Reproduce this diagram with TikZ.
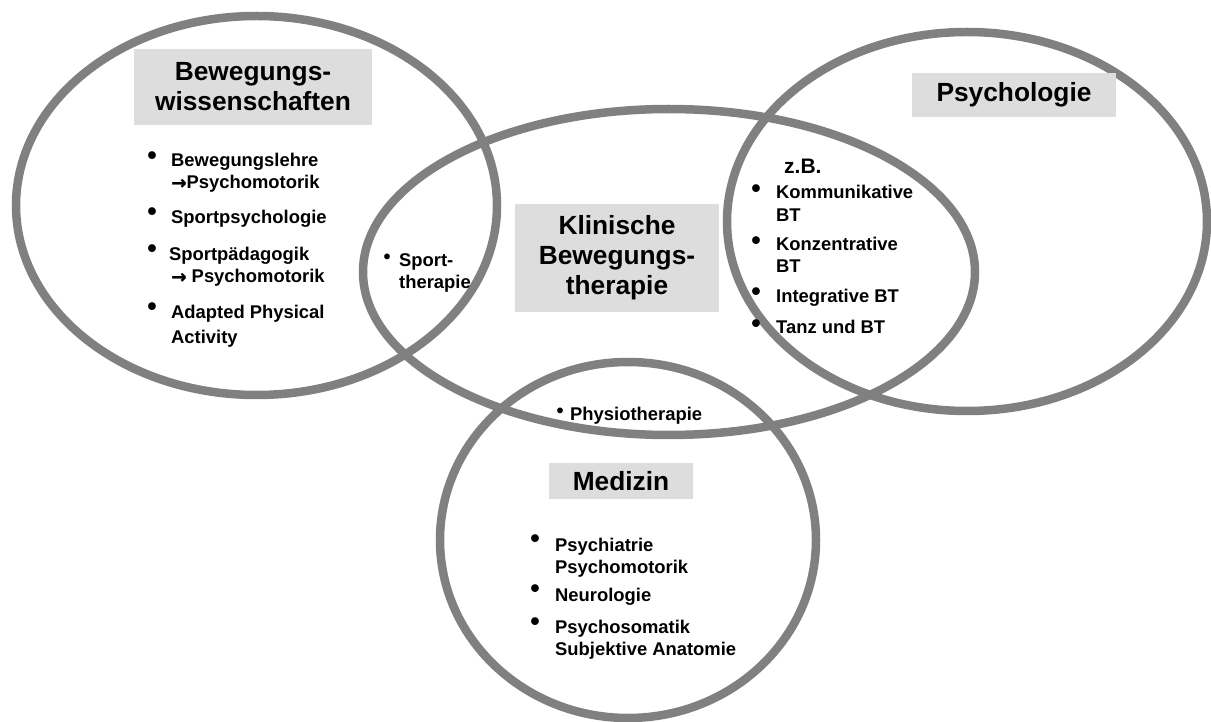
\documentclass[tikz,border=0pt]{standalone}
\usepackage{fontspec}
\setmainfont{Liberation Sans}
\newfontfamily\arrowfont{DejaVu Sans}[FakeBold=1.5]
\definecolor{ringgray}{HTML}{808080}
\definecolor{boxgray}{HTML}{DDDDDD}
\newcommand\ttlfont{\fontsize{26.3}{30}\selectfont\bfseries}
\newcommand\itmfont{\fontsize{18.4}{22}\selectfont\bfseries}
\newcommand\zbfont{\fontsize{21}{24}\selectfont\bfseries}
\newcommand\bltfont{\fontsize{27}{28}\selectfont\bfseries}
\newcommand\sbltfont{\fontsize{20}{22}\selectfont\bfseries}
\newcommand\arr{{\arrowfont\bfseries →}}
\begin{document}
\begin{tikzpicture}[x=1pt,y=-1pt,
  ring/.style={draw=ringgray, line width=8.5pt},
  titlebox/.style={fill=boxgray, inner sep=0pt, align=center, font=\ttlfont},
  itemtext/.style={anchor=base west, inner sep=0pt, font=\itmfont},
  bulletmark/.style={inner sep=0pt, font=\bltfont},
  smallbullet/.style={inner sep=0pt, font=\sbltfont}]
\useasboundingbox (0,0) rectangle (1211,722);
\begin{scope}
\clip (0,0) rectangle (1211,722);
% rings
\draw[ring] (256.5,205.5) ellipse [x radius=240.5pt, y radius=189.5pt];
\draw[ring] (669,272) ellipse [x radius=306pt, y radius=163pt];
\draw[ring] (967,221.5) ellipse [x radius=240pt, y radius=189.5pt];
\draw[ring] (628,540) ellipse [x radius=188pt, y radius=178pt];
\end{scope}
% title boxes
\node[titlebox, minimum width=238pt, minimum height=76pt] (bwtitle) at (253,87) {Bewegungs-\\wissenschaften};
\node[titlebox, minimum width=204pt, minimum height=44pt] (pstitle) at (1014,95) {Psychologie};
\node[titlebox, minimum width=204pt, minimum height=108pt] (kbtitle) at (617,258) {Klinische\\Bewegungs-\\therapie};
\node[titlebox, minimum width=144pt, minimum height=36pt] (medtitle) at (621,481) {Medizin};
% left list
\node[bulletmark] (lb1) at (152,158) {•};
\node[itemtext] (l1a) at (171,167) {Bewegungslehre};
\node[itemtext] (l1b) at (171,189) {\arr Psychomotorik};
\node[bulletmark] (lb2) at (152,214) {•};
\node[itemtext] (l2a) at (171,224) {Sportpsychologie};
\node[bulletmark] (lb3) at (152,251) {•};
\node[itemtext] (l3a) at (169,261) {Sportpädagogik};
\node[itemtext] (l3b) at (171,283) {\arr{} Psychomotorik};
\node[bulletmark] (lb4) at (152,309) {•};
\node[itemtext] (l4a) at (171,319) {Adapted Physical};
\node[itemtext] (l4b) at (171,343) {Activity};
% sporttherapie
\node[smallbullet] (sb) at (387,259) {•};
\node[itemtext] (st1) at (399,267) {Sport-};
\node[itemtext] (st2) at (399,289) {therapie};
% physiotherapie
\node[smallbullet] (pb) at (560,413) {•};
\node[itemtext] (pt) at (570,420) {Physiotherapie};
% right list
\node[anchor=base west, inner sep=0pt, font=\zbfont] (zb) at (784,174) {z.B.};
\node[bulletmark] (rb1) at (756,191) {•};
\node[itemtext] (r1a) at (776,199) {Kommunikative};
\node[itemtext] (r1b) at (776,222) {BT};
\node[bulletmark] (rb2) at (756,243) {•};
\node[itemtext] (r2a) at (776,251) {Konzentrative};
\node[itemtext] (r2b) at (776,273) {BT};
\node[bulletmark] (rb3) at (756,294) {•};
\node[itemtext] (r3a) at (776,302) {Integrative BT};
\node[bulletmark] (rb4) at (756,326) {•};
\node[itemtext] (r4a) at (776,334) {Tanz und BT};
% medizin list
\node[bulletmark] (mb1) at (535,541) {•};
\node[itemtext] (m1a) at (555,551) {Psychiatrie};
\node[itemtext] (m1b) at (555,573) {Psychomotorik};
\node[bulletmark] (mb2) at (535,591) {•};
\node[itemtext] (m2a) at (555,601) {Neurologie};
\node[bulletmark] (mb3) at (535,624) {•};
\node[itemtext] (m3a) at (555,633) {Psychosomatik};
\node[itemtext] (m3b) at (555,655) {Subjektive Anatomie};
\end{tikzpicture}
\end{document}
